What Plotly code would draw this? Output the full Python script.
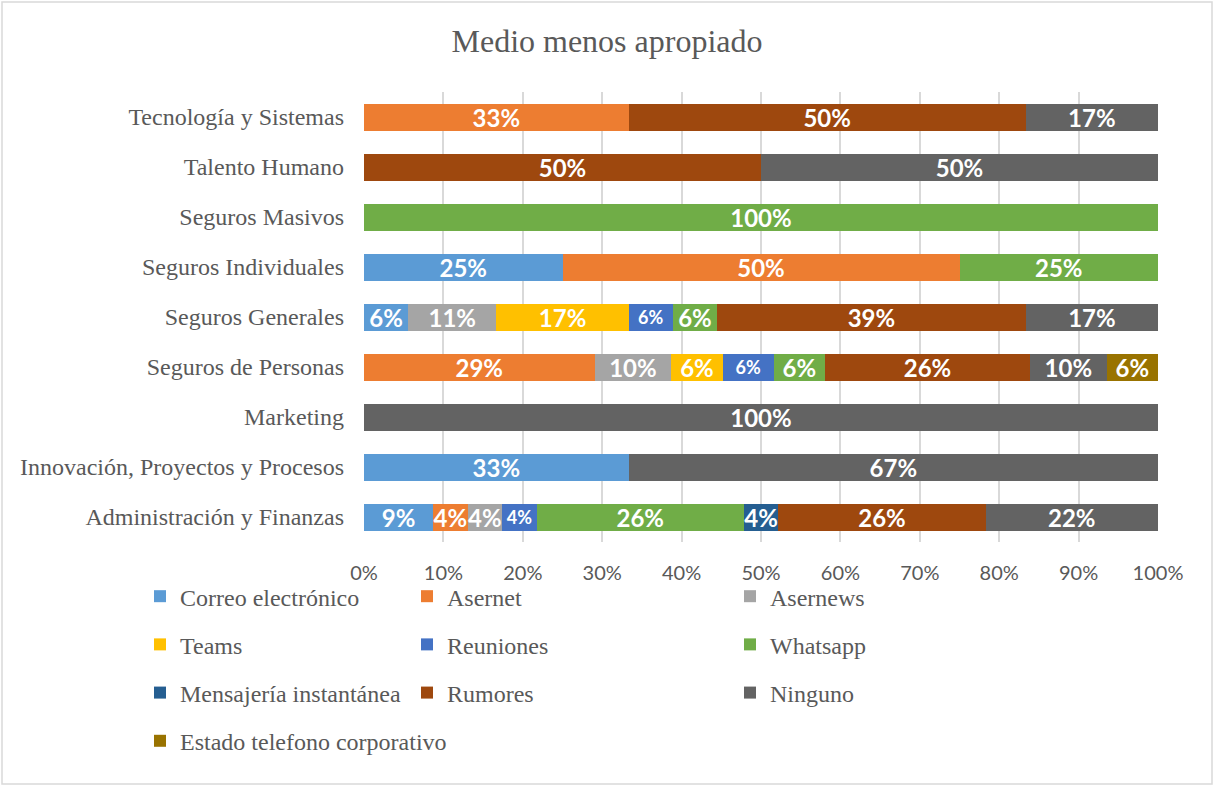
import plotly.graph_objects as go

# Departments, listed bottom-to-top as they appear on the category axis
departments = [
    "Administración y Finanzas",
    "Innovación, Proyectos y Procesos",
    "Marketing",
    "Seguros de Personas",
    "Seguros Generales",
    "Seguros Individuales",
    "Seguros Masivos",
    "Talento Humano",
    "Tecnología y Sistemas",
]

# Share of answers (%) per channel, same order as departments
correo = [8.70, 33.33, 0, 0, 5.56, 25.0, 0, 0, 0]
asernet = [4.35, 0, 0, 29.03, 0, 50.0, 0, 0, 33.33]
asernews = [4.35, 0, 0, 9.68, 11.11, 0, 0, 0, 0]
teams = [0, 0, 0, 6.45, 16.67, 0, 0, 0, 0]
reuniones = [4.35, 0, 0, 6.45, 5.56, 0, 0, 0, 0]
whatsapp = [26.09, 0, 0, 6.45, 5.56, 25.0, 100.0, 0, 0]
mensajeria = [4.35, 0, 0, 0, 0, 0, 0, 0, 0]
rumores = [26.09, 0, 0, 25.81, 38.89, 0, 0, 50.0, 50.0]
ninguno = [21.72, 66.67, 100.0, 9.68, 16.65, 0, 0, 50.0, 16.67]
estado = [0, 0, 0, 6.45, 0, 0, 0, 0, 0]

x_ticks = list(range(0, 101, 10))

# name, values, colour, legend column, label size
series = [
    ("Correo electrónico", correo, "#5B9BD5", "legend", 24),
    ("Asernet", asernet, "#ED7D31", "legend2", 24),
    ("Asernews", asernews, "#A5A5A5", "legend3", 24),
    ("Teams", teams, "#FFC000", "legend", 24),
    ("Reuniones", reuniones, "#4472C4", "legend2", 18),
    ("Whatsapp", whatsapp, "#70AD47", "legend3", 24),
    ("Mensajería instantánea", mensajeria, "#255E91", "legend", 24),
    ("Rumores", rumores, "#9E480E", "legend2", 24),
    ("Ninguno", ninguno, "#636363", "legend3", 24),
    ("Estado telefono corporativo", estado, "#997300", "legend", 24),
]

GREY = "#595959"
SERIF = "Liberation Serif, Times New Roman, serif"
SANS = "Lato, Open Sans, sans-serif"

fig = go.Figure()
for name, vals, color, leg, lsize in series:
    fig.add_trace(go.Bar(
        name=name,
        y=departments,
        x=vals,
        orientation="h",
        marker=dict(color=color, line=dict(width=0)),
        text=[f"{v:.0f}%" if v else "" for v in vals],
        textposition="inside",
        insidetextanchor="middle",
        constraintext="none",
        textangle=0,
        textfont=dict(family=SANS, size=lsize, color="white", weight="bold"),
        legend=leg,
        legendgroup=name,
        hovertemplate="%{y}<br>" + name + ": %{x:.0f}%<extra></extra>",
    ))

legend_common = dict(
    orientation="v",
    yanchor="top",
    y=-0.0713,
    xanchor="left",
    font=dict(family=SERIF, size=24, color=GREY),
    tracegroupgap=14,
    bgcolor="rgba(0,0,0,0)",
    traceorder="grouped",
)

fig.update_layout(
    width=1214,
    height=786,
    barmode="stack",
    bargap=0.46,
    paper_bgcolor="white",
    plot_bgcolor="white",
    margin=dict(l=364, r=56, t=92, b=244),
    title=dict(
        text="Medio menos apropiado",
        x=0.5,
        xref="container",
        xanchor="center",
        y=1 - 41 / 786,
        yref="container",
        yanchor="middle",
        font=dict(family=SERIF, size=32, color=GREY),
    ),
    xaxis=dict(
        range=[0, 100],
        tickvals=x_ticks,
        ticktext=[f"{t}%" for t in x_ticks],
        showgrid=True,
        gridcolor="#D9D9D9",
        gridwidth=1.5,
        zeroline=True,
        zerolinecolor="white",
        showline=False,
        ticks="",
        ticklabelstandoff=17,
        tickfont=dict(family=SANS, size=20, color=GREY),
        fixedrange=True,
    ),
    yaxis=dict(
        categoryorder="array",
        categoryarray=departments,
        showgrid=False,
        showline=False,
        zeroline=False,
        ticks="",
        ticklabelstandoff=19,
        tickfont=dict(family=SERIF, size=24, color=GREY),
        fixedrange=True,
    ),
    legend=dict(legend_common, x=(140 - 364) / 794),
    legend2=dict(legend_common, x=(407 - 364) / 794),
    legend3=dict(legend_common, x=(730 - 364) / 794),
    shapes=[dict(
        type="rect",
        xref="paper",
        yref="paper",
        x0=(2 - 364) / 794,
        x1=(1212 - 364) / 794,
        y0=(542 - 784) / 450,
        y1=(542 - 2) / 450,
        line=dict(color="#D9D9D9", width=1.5),
        fillcolor="rgba(0,0,0,0)",
        layer="below",
    )],
)

fig.write_html("out.html")
